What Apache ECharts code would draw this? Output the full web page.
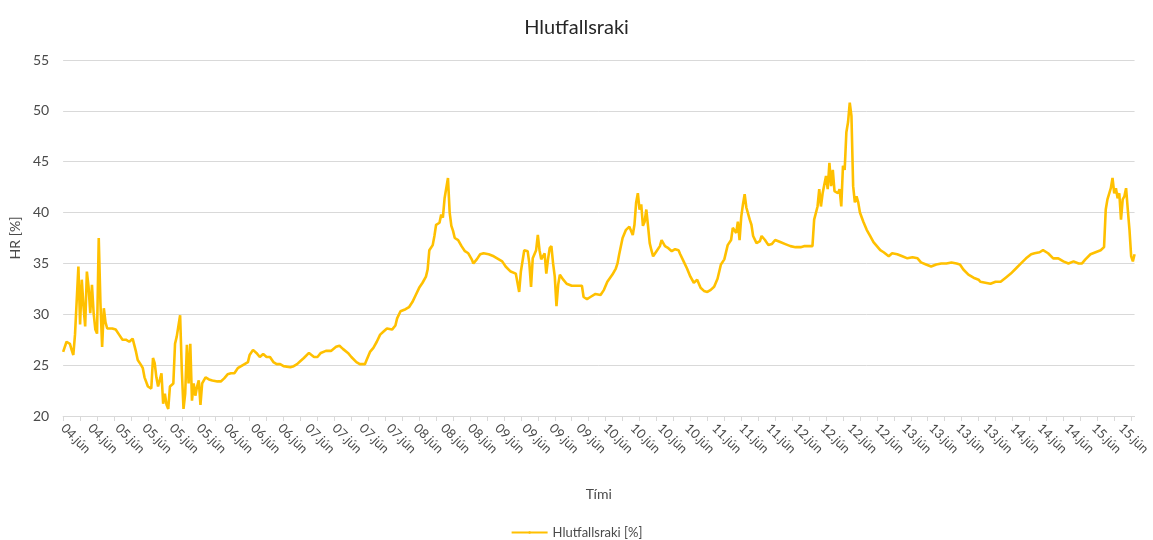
<!DOCTYPE html>
<html lang="is">
<head>
  <meta charset="UTF-8">
  <script src="https://cdn.jsdelivr.net/npm/echarts@6/dist/echarts.min.js"></script>
  <style>
    body { margin: 0; background: #ffffff; }
    #main { width: 1153px; height: 540px; }
  </style>
</head>
<body>
  <div id="main"></div>
  <script>
    // one date label every 16 time steps, tick every 10 steps
    var dateLabels = [
      '04.jún', '04.jún', '05.jún', '05.jún', '05.jún', '05.jún', '06.jún', '06.jún', '06.jún',
      '07.jún', '07.jún', '07.jún', '07.jún', '08.jún', '08.jún', '08.jún', '09.jún', '09.jún',
      '09.jún', '09.jún', '10.jún', '10.jún', '10.jún', '10.jún', '11.jún', '11.jún', '11.jún',
      '12.jún', '12.jún', '12.jún', '12.jún', '13.jún', '13.jún', '13.jún', '13.jún', '14.jún',
      '14.jún', '14.jún', '15.jún', '15.jún'
    ];
    var stepsPerLabel = 16;
    var stepCount = 633;

    // time step of each reading
    var sampleIdx = [
      0, 2, 4, 5, 6, 7, 8, 9, 10, 11, 12, 13, 14, 15, 16, 17, 18, 19, 20, 21, 22, 23, 24, 25, 26, 27, 29, 31, 33, 35, 37, 39, 41, 43, 44, 46, 47, 48, 50,
      52, 53, 54, 55, 56, 58, 59, 60, 61, 62, 63, 65, 66, 67, 69, 70, 71, 72, 73, 74, 75, 76, 77, 78, 79, 80, 81, 82, 83, 84, 86, 88, 91, 93, 95, 97, 99,
      101, 103, 105, 107, 109, 110, 112, 114, 116, 118, 120, 122, 124, 126, 128, 130, 134, 136, 138, 140, 142, 145, 148, 150, 152, 155, 158, 161, 163,
      165, 168, 170, 173, 175, 178, 179, 181, 183, 185, 187, 189, 191, 194, 196, 197, 199, 202, 204, 206, 208, 210, 212, 214, 215, 216, 218, 219, 220,
      221, 222, 223, 224, 225, 226, 227, 228, 229, 230, 231, 233, 235, 237, 239, 241, 242, 244, 246, 248, 251, 254, 256, 259, 261, 264, 267, 268, 269,
      270, 272, 274, 275, 276, 277, 278, 279, 280, 281, 282, 284, 285, 286, 287, 288, 289, 290, 291, 292, 293, 295, 297, 300, 303, 306, 307, 309, 311,
      314, 317, 319, 321, 324, 326, 327, 328, 330, 332, 334, 336, 337, 338, 339, 340, 341, 342, 343, 344, 345, 346, 347, 348, 350, 352, 353, 355, 357,
      359, 361, 363, 364, 366, 368, 370, 372, 374, 376, 378, 380, 382, 384, 386, 388, 390, 392, 394, 395, 397, 398, 399, 400, 401, 402, 403, 405, 406,
      407, 409, 411, 412, 414, 416, 418, 420, 423, 426, 429, 432, 435, 437, 439, 442, 443, 445, 446, 447, 448, 450, 451, 452, 453, 454, 455, 457, 458,
      459, 460, 461, 462, 463, 464, 465, 466, 467, 468, 469, 470, 472, 474, 476, 478, 480, 482, 484, 487, 489, 492, 495, 498, 501, 504, 506, 509, 512,
      515, 518, 521, 524, 527, 529, 531, 534, 537, 540, 541, 544, 547, 550, 553, 556, 559, 562, 565, 568, 571, 573, 576, 578, 581, 584, 587, 590, 593,
      596, 599, 601, 603, 606, 609, 612, 614, 615, 616, 618, 619, 620, 621, 622, 623, 624, 625, 626, 627, 628, 629, 630, 631, 632
    ];

    // Hlutfallsraki [%] at each reading
    var hrValues = [
      26.3, 27.3, 27.1, 26.5, 26.0, 28.0, 28.1, 34.7, 29.0, 33.4, 30.8, 28.8, 34.2, 32.7, 30.1, 32.9, 30.1, 28.5, 28.1, 37.5, 31.1, 26.8, 30.6, 29.2, 28.6, 28.7, 28.6, 28.5, 28.0, 27.5, 27.5, 27.3, 27.6, 26.3, 25.5, 25.0, 24.7, 23.8, 22.9,
      22.7, 25.7, 25.2, 23.8, 22.9, 24.2, 21.2, 22.2, 21.1, 20.7, 22.9, 23.2, 27.1, 27.8, 29.9, 24.5, 20.7, 22.2, 27.0, 23.2, 27.1, 21.5, 23.2, 22.0, 22.9, 23.5, 21.1, 23.2, 23.5, 23.8, 23.6, 23.5, 23.4, 23.4, 23.7, 24.1, 24.2,
      24.2, 24.7, 24.9, 25.1, 25.3, 26.0, 26.5, 26.2, 25.8, 26.1, 25.8, 25.8, 25.3, 25.1, 25.1, 24.9, 24.8, 24.9, 25.1, 25.4, 25.7, 26.2, 25.8, 25.8, 26.2, 26.4, 26.4, 26.8, 26.9,
      26.6, 26.2, 25.8, 25.3, 25.1, 25.1, 25.5, 26.3, 26.7, 27.3, 28.0, 28.3, 28.6, 28.5, 28.9, 29.6, 30.3, 30.5, 30.7, 31.2, 31.9, 32.6, 33.1, 33.7, 34.4, 36.3, 36.8, 37.7, 38.8,
      38.7, 39.0, 39.8, 39.5, 41.4, 41.3, 43.4, 40.0, 38.7, 38.2, 37.5, 37.3, 36.7, 36.2, 36.0, 35.4, 35.0, 35.4, 35.9, 36.0, 35.9, 35.7, 35.5, 35.2, 34.7, 34.2, 34.0, 33.9, 32.2,
      34.2, 36.3, 36.2, 35.0, 32.7, 35.5, 35.4, 36.3, 37.8, 36.3, 35.4, 36.0, 34.0, 35.4, 36.5, 36.7, 35.0, 33.7, 30.8, 32.9, 33.9, 33.4, 33.0, 32.8, 32.8, 32.8, 31.7, 31.5, 31.7,
      32.0, 31.9, 32.4, 33.2, 33.9, 34.5, 35.0, 35.9, 37.5, 38.3, 38.6, 37.8, 38.8, 41.0, 41.9, 40.3, 40.8, 38.7, 39.1, 40.3, 38.7, 37.0, 36.3, 35.7, 36.2, 36.7, 37.3, 36.7, 36.5,
      36.2, 36.4, 36.3, 35.9, 35.2, 34.5, 33.7, 33.1, 33.4, 32.6, 32.3, 32.2, 32.4, 32.7, 33.5, 34.9, 35.4, 36.8, 37.3, 38.5, 38.0, 39.1, 37.3, 39.6, 40.8, 41.8, 40.5, 39.3, 38.8,
      37.7, 37.0, 37.2, 37.7, 37.3, 36.8, 36.9, 37.3, 37.1, 36.9, 36.7, 36.6, 36.6, 36.7, 36.7, 36.7, 39.3, 40.6, 42.3, 40.6, 41.9, 43.6, 42.3, 44.9, 42.6, 44.2, 42.1, 41.9, 42.3,
      40.6, 44.6, 44.2, 47.9, 48.9, 50.8, 49.5, 42.6, 41.0, 41.6, 41.0, 40.0, 39.1, 38.3, 37.7, 37.1, 36.7, 36.3, 36.1, 35.7, 36.0, 35.9, 35.7, 35.5, 35.6, 35.5, 35.1, 34.9, 34.7,
      34.9, 35.0, 35.0, 35.1, 35.0, 34.9, 34.4, 33.9, 33.6, 33.4, 33.2, 33.1, 33.0, 33.2, 33.2, 33.6, 34.0, 34.5, 35.0, 35.5, 35.9, 36.0, 36.1, 36.3, 36.0, 35.5, 35.5, 35.2, 35.0,
      35.2, 35.0, 35.0, 35.4, 35.9, 36.1, 36.3, 36.6, 40.3, 41.3, 42.4, 43.4, 41.9, 42.4, 41.4, 41.9, 39.3, 41.3, 41.6, 42.4, 40.3, 38.3, 35.7, 35.2, 35.9
    ];

    var yTicks = { min: 20, max: 55, step: 5 };

    var categories = [];
    for (var i = 0; i < stepCount; i++) {
      categories.push(dateLabels[Math.floor(i / stepsPerLabel)]);
    }
    var seriesData = sampleIdx.map(function (s, k) { return [s, hrValues[k]]; });

    var chart = echarts.init(document.getElementById('main'));
    var font = 'Lato, "Liberation Sans", sans-serif';
    var textColor = '#4a4a4a';

    chart.setOption({
      animation: false,
      textStyle: { fontFamily: font },
      title: {
        text: 'Hlutfallsraki',
        left: 'center',
        top: 13,
        textStyle: { fontSize: 20, fontWeight: 'normal', color: '#262626', fontFamily: font }
      },
      grid: { left: 62, right: 8, top: 60, bottom: 124 },
      xAxis: {
        type: 'category',
        data: categories,
        boundaryGap: false,
        name: 'Tími',
        nameLocation: 'middle',
        nameGap: 71,
        nameTextStyle: { fontSize: 14, color: textColor },
        axisLine: { lineStyle: { color: '#d9d9d9', width: 1 } },
        axisTick: { show: true, interval: 9, length: 5, lineStyle: { color: '#d9d9d9' } },
        axisLabel: {
          interval: stepsPerLabel - 1,
          rotate: -45,
          margin: 10,
          fontSize: 13,
          color: textColor
        },
        splitLine: { show: false }
      },
      yAxis: {
        type: 'value',
        min: yTicks.min,
        max: yTicks.max,
        interval: yTicks.step,
        name: 'HR [%]',
        nameLocation: 'middle',
        nameGap: 41,
        nameTextStyle: { fontSize: 14, color: textColor },
        axisLine: { show: false },
        axisTick: { show: false },
        axisLabel: { fontSize: 14, color: textColor, margin: 14 },
        splitLine: { lineStyle: { color: '#d9d9d9', width: 1 } }
      },
      legend: {
        top: 521,
        left: 'center',
        itemWidth: 36,
        itemHeight: 3,
        textStyle: { fontSize: 13, color: textColor },
        data: ['Hlutfallsraki [%]']
      },
      series: [{
        name: 'Hlutfallsraki [%]',
        type: 'line',
        data: seriesData,
        symbol: 'none',
        lineStyle: { color: '#FFC000', width: 2.6 },
        itemStyle: { color: '#FFC000' }
      }]
    });
  </script>
</body>
</html>
